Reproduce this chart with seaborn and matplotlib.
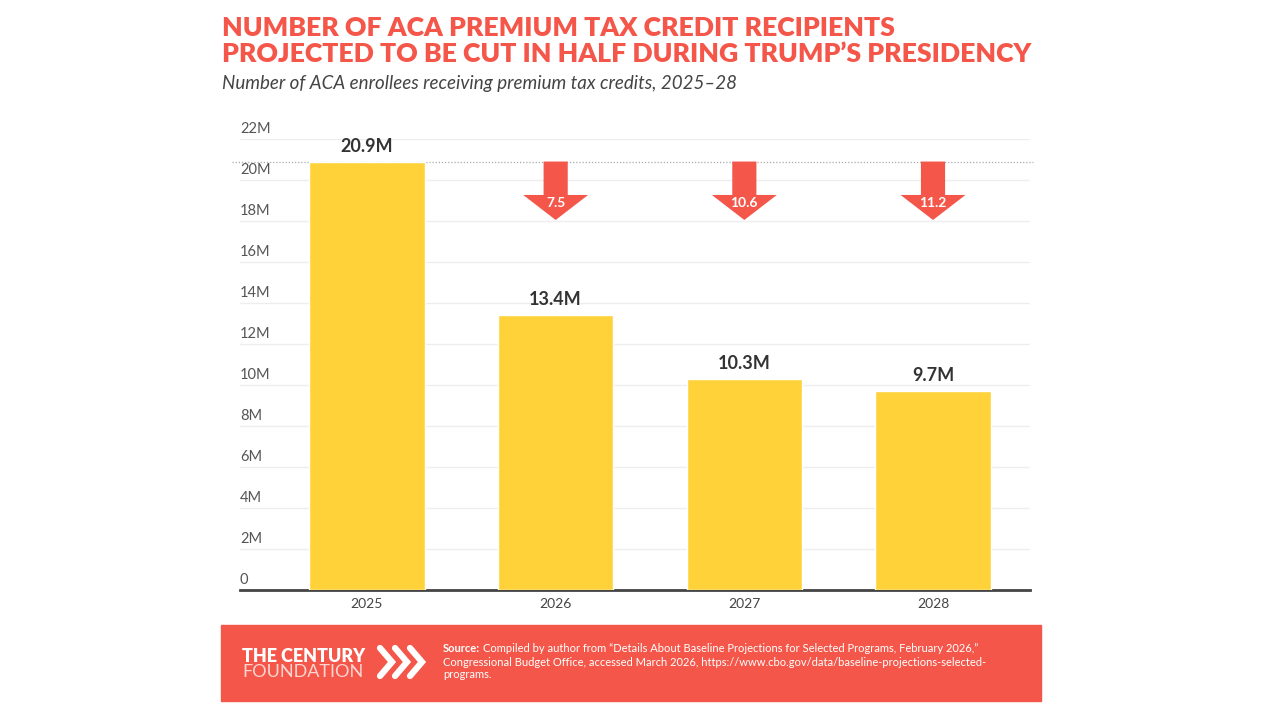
import numpy as np
import matplotlib
matplotlib.use("Agg")
import matplotlib.pyplot as plt
import matplotlib.transforms as mtransforms
import seaborn as sns
import pandas as pd

# chart data
years = ["2025", "2026", "2027", "2028"]
recipients = [20.9, 13.4, 10.3, 9.7]          # millions
value_labels = ["20.9M", "13.4M", "10.3M", "9.7M"]
y_ticks = [0, 2, 4, 6, 8, 10, 12, 14, 16, 18, 20, 22]
y_tick_labels = ["0", "2M", "4M", "6M", "8M", "10M", "12M", "14M", "16M", "18M", "20M", "22M"]

title = ("NUMBER OF ACA PREMIUM TAX CREDIT RECIPIENTS\n"
         "PROJECTED TO BE CUT IN HALF DURING TRUMP\u2019S PRESIDENCY")
subtitle = "Number of ACA enrollees receiving premium tax credits, 2025\u201328"
source_bold = "Source:"
source_lines = [
    "Compiled by author from \u201cDetails About Baseline Projections for Selected Programs, February 2026,\u201d",
    "Congressional Budget Office, accessed March 2026, https://www.cbo.gov/data/baseline-projections-selected-",
    "programs.",
]

RED = "#F4574A"
YELLOW = "#FFD23A"
GREY = "#555555"

sns.set_theme(style="white")
plt.rcParams["font.family"] = ["Lato", "DejaVu Sans"]

df = pd.DataFrame({"year": years, "value": recipients})

fig = plt.figure(figsize=(12.8, 7.2), dpi=100)
ax = fig.add_axes([240 / 1280, 1 - 590 / 720, 790 / 1280, 451 / 720])

sns.barplot(data=df, x="year", y="value", color=YELLOW, width=0.61,
            saturation=1, ax=ax, zorder=3)

ax.set_ylim(0, 22)
ax.set_xlim(-0.673, 3.514)
ax.set_yticks(y_ticks)
ax.set_yticklabels([])
ax.tick_params(axis="y", length=0)
ax.yaxis.grid(True, color="#eeeeee", linewidth=1, zorder=0)
ax.xaxis.grid(False)
for s in ["top", "right", "left"]:
    ax.spines[s].set_visible(False)
ax.spines["bottom"].set_color("#444444")
ax.spines["bottom"].set_linewidth(2)
ax.set_xlabel("")
ax.set_ylabel("")
ax.tick_params(axis="x", length=0, pad=6, labelsize=10, labelcolor="#444444")

# y tick labels sit just above gridlines, left aligned
trans = mtransforms.blended_transform_factory(ax.transAxes, ax.transData)
offset = mtransforms.offset_copy(trans, fig=fig, x=0, y=2, units="points")
for t, lab in zip(y_ticks, y_tick_labels):
    ax.text(0.0, t, lab, transform=offset, ha="left", va="bottom",
            fontsize=10.5, color=GREY)

# bar value labels
for i, (v, lab) in enumerate(zip(recipients, value_labels)):
    ax.annotate(lab, (i, v), xytext=(0, 5), textcoords="offset points",
                ha="center", va="bottom", fontsize=13, fontweight="bold",
                color="#333333")

# dotted reference line at the 2025 level
ax.axhline(recipients[0], xmin=-0.01, xmax=1.004, color="#aaaaaa",
           linestyle=(0, (1, 1.5)), linewidth=0.9, zorder=2, clip_on=False)

# drop arrows from the 2025 level
shaft_half, head_half = 0.064, 0.172
head_len, shaft_len = 1.22, 1.63
base = recipients[0]
for i in range(1, len(recipients)):
    drop = base - recipients[i]
    neck = base - shaft_len
    tip = neck - head_len
    xs = [i - shaft_half, i + shaft_half, i + shaft_half, i + head_half, i,
          i - head_half, i - shaft_half]
    ys = [base, base, neck, neck, tip, neck, neck]
    ax.fill(xs, ys, color=RED, zorder=4, lw=0)
    ax.text(i, neck - 0.38, f"{drop:.1f}", ha="center", va="center",
            fontsize=10, fontweight="bold", color="white", zorder=5)

# title and subtitle
fig.text(222 / 1280, 1 - 16 / 720, title, ha="left", va="top",
         fontsize=19.2, fontweight="heavy", color=RED, linespacing=1.12)
fig.text(222 / 1280, 1 - 83 / 720, subtitle, ha="left", va="center",
         fontsize=13.5, style="italic", color="#444444")

# footer band
fig.patches.append(plt.Rectangle((221 / 1280, 1 - 701 / 720), 820 / 1280, 76 / 720,
                                 transform=fig.transFigure, color=RED, zorder=0))
fig.text(242 / 1280, 1 - 656 / 720, "THE CENTURY", ha="left", va="center",
         fontsize=13, fontweight="heavy", color="white")
fig.text(242 / 1280, 1 - 672 / 720, "FOUNDATION", ha="left", va="center",
         fontsize=13, color="#FBD5D0")
for k in range(3):
    x0 = (380 + k * 15) / 1280
    fig.lines.append(plt.Line2D([x0, x0 + 12 / 1280, x0],
                                [1 - 648 / 720, 1 - 662 / 720, 1 - 676 / 720],
                                transform=fig.transFigure, color="white",
                                linewidth=4.5, solid_joinstyle="miter"))

src_bold = fig.text(443 / 1280, 1 - 649 / 720, source_bold, ha="left", va="center",
                    fontsize=8, fontweight="bold", color="white")
fig.canvas.draw()
bb = src_bold.get_window_extent(fig.canvas.get_renderer())
fig.text((bb.x1 + 3) / 1280, 1 - 649 / 720, source_lines[0], ha="left", va="center",
         fontsize=8, color="white")
for j, line in enumerate(source_lines[1:]):
    fig.text(443 / 1280, 1 - (662 + 13 * j) / 720, line, ha="left", va="center",
             fontsize=8, color="white")

fig.savefig("out.png", dpi=100)
